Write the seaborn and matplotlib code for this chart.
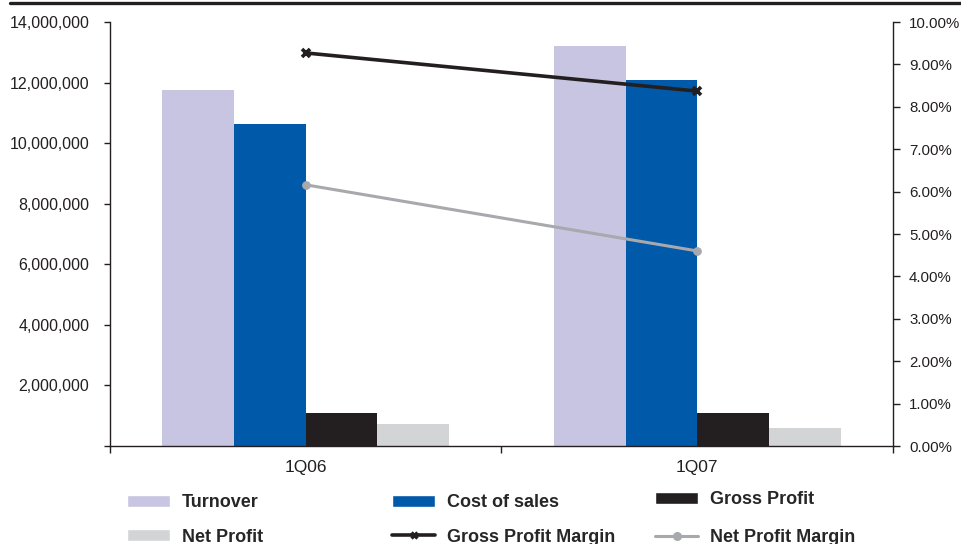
import numpy as np
import pandas as pd
import matplotlib
matplotlib.use("Agg")
import matplotlib.pyplot as plt
from matplotlib.lines import Line2D
from matplotlib.patches import Patch
from matplotlib.ticker import FuncFormatter, MultipleLocator, FixedLocator
import seaborn as sns

# ---- data ----
quarters = ["1Q06", "1Q07"]
turnover = [11_750_000, 13_200_000]
cost_of_sales = [10_630_000, 12_080_000]
gross_profit = [1_100_000, 1_100_000]
net_profit = [730_000, 600_000]
gross_margin = [9.27, 8.37]   # percent
net_margin = [6.16, 4.60]     # percent

series_names = ["Turnover", "Cost of sales", "Gross Profit", "Net Profit"]
series_colors = ["#C8C5E2", "#0059A9", "#231F20", "#D3D4D5"]
line_black = "#231F20"
line_gray = "#A7A9AC"

sns.set_theme(style="white")
plt.rcParams["font.family"] = ["Liberation Sans", "DejaVu Sans"]

df = pd.DataFrame({
    "quarter": np.repeat(quarters, 4),
    "series": series_names * len(quarters),
    "value": np.ravel(np.column_stack([turnover, cost_of_sales, gross_profit, net_profit])),
})

fig = plt.figure(figsize=(9.62, 5.44), dpi=100)
ax = fig.add_axes([110 / 962, 1 - 446 / 544, (893 - 110) / 962, (446 - 22) / 544])

sns.barplot(data=df, x="quarter", y="value", hue="series", hue_order=series_names,
            palette=series_colors, width=0.733, gap=0, saturation=1, ax=ax,
            errorbar=None, legend=False, linewidth=0)

ax.set_xlim(-0.5, 1.5)
ax.set_ylim(0, 14_000_000)
ax.yaxis.set_major_locator(MultipleLocator(2_000_000))
ax.yaxis.set_major_formatter(FuncFormatter(lambda v, p: "" if v == 0 else f"{v:,.0f}"))
ax.set_xlabel("")
ax.set_ylabel("")

# category boundaries as downward ticks, labels at centres without ticks
ax.xaxis.set_minor_locator(FixedLocator([-0.5, 0.5, 1.5]))
ax.tick_params(axis="x", which="major", length=0, pad=10, labelsize=12.5, colors="#231F20")
ax.tick_params(axis="x", which="minor", length=5, width=1, direction="out", color="#231F20", bottom=True)
ax.tick_params(axis="y", which="major", length=4, width=1, direction="out", left=True,
               pad=11, labelsize=11.5, colors="#231F20")

ax.spines["top"].set_visible(False)
ax.spines["right"].set_visible(False)
for side in ["left", "bottom"]:
    ax.spines[side].set_color("#231F20")
    ax.spines[side].set_linewidth(1)

# secondary axis for margins
ax2 = ax.twinx()
xpos = np.arange(len(quarters))
sns.lineplot(x=xpos, y=np.array(gross_margin) / 100, ax=ax2, color=line_black, lw=2.6,
             marker="x", markersize=5.5, markeredgewidth=2.6, markeredgecolor=line_black)
sns.lineplot(x=xpos, y=np.array(net_margin) / 100, ax=ax2, color=line_gray, lw=2.2,
             marker="o", markersize=5.5, markeredgecolor=line_gray, markerfacecolor=line_gray)
ax2.set_ylim(0, 0.10)
ax2.yaxis.set_major_locator(MultipleLocator(0.01))
ax2.yaxis.set_major_formatter(FuncFormatter(lambda v, p: f"{v * 100:.2f}%"))
ax2.tick_params(axis="y", which="major", length=5, width=1, direction="out", right=True,
                pad=6.5, labelsize=10.8, colors="#231F20")
for side in ["top", "left", "bottom"]:
    ax2.spines[side].set_visible(False)
ax2.spines["right"].set_color("#231F20")
ax2.spines["right"].set_linewidth(1)
ax2.grid(False)
ax.grid(False)
ax2.set_xlim(-0.5, 1.5)

# rule across the top of the page
fig.add_artist(Line2D([10 / 962, 1.0], [1 - 3 / 544] * 2, color="#231F20", lw=2.4,
                      transform=fig.transFigure))

# legend laid out in three columns
legend_font = {"family": ["Liberation Sans", "DejaVu Sans"], "weight": "bold", "size": 13}
common = dict(frameon=False, prop=legend_font, handlelength=2.4, handleheight=0.65,
              handletextpad=0.65, labelspacing=0.97, borderpad=0, borderaxespad=0,
              loc="upper left")

col1 = [Patch(facecolor=series_colors[0]), Patch(facecolor=series_colors[3])]
col2 = [Patch(facecolor=series_colors[1]),
        Line2D([], [], color=line_black, lw=2.6, marker="x", markersize=5, markeredgewidth=2.4)]
col3 = [Patch(facecolor=series_colors[2]),
        Line2D([], [], color=line_gray, lw=2.2, marker="o", markersize=5.5)]

fig.legend(col1, ["Turnover", "Net Profit"], bbox_to_anchor=(127 / 962, 1 - 494 / 544), **common)
fig.legend(col2, ["Cost of sales", "Gross Profit Margin"], bbox_to_anchor=(392 / 962, 1 - 494 / 544), **common)
fig.legend(col3, ["Gross Profit", "Net Profit Margin"], bbox_to_anchor=(655 / 962, 1 - 491 / 544),
           **dict(common, labelspacing=1.15))

fig.savefig("out.png", dpi=100)
